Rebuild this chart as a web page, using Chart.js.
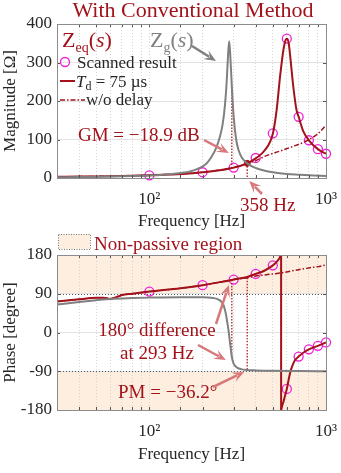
<!DOCTYPE html>
<html><head><meta charset="utf-8">
<script src="https://cdn.jsdelivr.net/npm/chart.js@4.4.1/dist/chart.umd.min.js"></script>
<style>
html,body{margin:0;padding:0;background:#fff;width:341px;height:473px;overflow:hidden;}
canvas{position:absolute;left:0;}
#c1{top:0;}
#c2{top:228px;}
</style></head><body>
<canvas id="c1" width="341" height="240"></canvas>
<canvas id="c2" width="341" height="245"></canvas>
<script>
// ---------------- DATA ----------------
const freqRange = [30, 1000];
const magTicks = [0, 100, 200, 300, 400];
const phaseTicks = [-180, -135, -90, -45, 0, 45, 90, 135, 180];
const xTickLabels = {100: '10²', 1000: '10³'};

// Zg(s) magnitude (gray)
const zgMagFreq = [30,40,50,60,70,80,100,120,150,170,190,210,225,240,250,260,268,274,279,283,287,293,300,310,320,335,358,400,450,500,600,700,800,1000];
const zgMag     = [2,2.6,3.2,3.8,4.5,5.2,6.5,8.5,13,17,25,37,55,80,105,140,190,250,320,355,320,238,160,100,72,52,38,26,19,15,10.5,8.5,7,5.5];
// Zeq(s) magnitude, Td = 75 us
const zeqMagFreq = [30,40,50,60,70,80,100,130,160,200,250,293,300,330,358,400,450,500,525,550,575,590,603,615,626,653,680,700,743,800,900,1000];
const zeqMag     = [3,3.6,4.2,4.8,5.4,6,7,9,11,15,20,26,27,32,38,51,72,115,175,265,335,358,362,350,320,237,178,159,122,98,75,63];
// Zeq(s) magnitude, w/o delay
const noDelayMagFreq = [30,50,100,200,300,358,400,460,550,650,750,800,900,1000];
const noDelayMag     = [3,4.2,7,15,27,38,45,58,70,82,93,100,115,137];
// scanned result
const scanFreq  = [100,200,300,400,500,600,700,800,900,1000];
const scanMag   = [7,15,27,52,116,362,159,98,75,63];
const scanPhase = [95,110,123,136,156,-131,-56,-39,-31,-23];

// Zg(s) phase (gray)
const zgPhaseFreq = [30,40,50,60,80,100,150,200,230,245,255,262,268,272,276,281,285,289,293,299,305,315,330,358,400,500,700,1000];
const zgPhase     = [65,71,75,78,80,81,82,82,80,77,72,65,52,40,24,3,-18,-38,-57,-71,-77,-82,-85,-87,-88,-89,-89.5,-89.8];
// Zeq(s) phase, Td = 75 us (wraps at +/-180)
const wrapFreq = 557;
const zeqPhaseFreqA = [30,40,50,55,60,65,70,80,100,150,200,250,293,300,358,400,450,500,520,540,557];
const zeqPhaseA     = [72,77,81,81,78,82,87,90,95,103,110,117,122,123,129,136,144,156,162,170,180];
const zeqPhaseFreqB = [557,565,575,585,600,626,650,668,700,750,800,900,1000];
const zeqPhaseB     = [-180,-170,-160,-148,-131,-94,-74,-64,-56,-46,-39,-31,-23];
// Zeq(s) phase, w/o delay
const noDelayPhaseFreq = [30,40,50,55,60,65,70,80,100,150,200,250,300,358,400,500,550,700,800,900,1000];
const noDelayPhase     = [72,77,81,81,78,82,87,90,95,103,110,117,123,127,131,136,138,146,150,153,157];

// margins
const gmFreq = 293, gmLineMag = [26, 238];
const pcFreq = 358, pcLineMag = [38, 0];
const diffLinePhase = [122, -57];
const pmLinePhase = [127, -87];
const nonPassiveBands = [[90, 180], [-180, -90]];

// ---------------- STYLE ----------------
const FONT = '"Liberation Serif", "Times New Roman", serif';
const RED = '#a3121a';
const ARROW = '#d8787a';
const MAG = '#ee1fd6';
const GRAY = '#808080';
const TXT = '#262626';
const SHADE = '#fdeee0';

const pts = (xs, ys) => xs.map((x, i) => ({x, y: ys[i]}));
const vline = (x, ys) => ys.map(y => ({x, y}));

function arrow(ctx, x1, y1, x2, y2, color) {
  const a = Math.atan2(y2 - y1, x2 - x1), hl = 10, hw = 5;
  const bx = x2 - hl * Math.cos(a), by = y2 - hl * Math.sin(a);
  ctx.save();
  ctx.strokeStyle = color; ctx.fillStyle = color; ctx.lineWidth = 2.5;
  ctx.beginPath(); ctx.moveTo(x1, y1); ctx.lineTo(bx + 2*Math.cos(a), by + 2*Math.sin(a)); ctx.stroke();
  ctx.beginPath(); ctx.moveTo(x2, y2);
  ctx.lineTo(bx + hw * Math.sin(a) - 2*Math.cos(a), by - hw * Math.cos(a) - 2*Math.sin(a));
  ctx.lineTo(bx + 3*Math.cos(a), by + 3*Math.sin(a));
  ctx.lineTo(bx - hw * Math.sin(a) - 2*Math.cos(a), by + hw * Math.cos(a) - 2*Math.sin(a));
  ctx.closePath(); ctx.fill();
  ctx.restore();
}
function runs(ctx, x, y, list) {
  ctx.textBaseline = 'alphabetic'; ctx.textAlign = 'left';
  for (const r of list) {
    ctx.font = r.f; ctx.fillStyle = r.c;
    ctx.fillText(r.t, x, y + (r.dy || 0));
    x += ctx.measureText(r.t).width;
  }
  return x;
}
function boxAndTicks(chart) {
  const {ctx, chartArea: a, scales} = chart;
  ctx.save();
  ctx.strokeStyle = '#555'; ctx.lineWidth = 1;
  ctx.beginPath();
  for (const t of scales.x.ticks) {
    const px = Math.round(scales.x.getPixelForValue(t.value)) + 0.5;
    ctx.moveTo(px, a.bottom); ctx.lineTo(px, a.bottom - 3);
    ctx.moveTo(px, a.top); ctx.lineTo(px, a.top + 3);
  }
  for (const t of scales.y.ticks) {
    const py = Math.round(scales.y.getPixelForValue(t.value)) + 0.5;
    ctx.moveTo(a.left, py); ctx.lineTo(a.left + 3, py);
    ctx.moveTo(a.right, py); ctx.lineTo(a.right - 3, py);
  }
  ctx.stroke();
  ctx.strokeStyle = '#8c8c8c';
  ctx.strokeRect(Math.round(a.left) + 0.5, Math.round(a.top) + 0.5, Math.round(a.right - a.left), Math.round(a.bottom - a.top));
  ctx.restore();
}

function xAxis(h) {
  return {
    type: 'logarithmic', min: freqRange[0], max: freqRange[1],
    grid: {color: '#d4d4d4', lineWidth: 1, drawTicks: false},
    border: {display: false, dash: [1, 2]},
    ticks: {autoSkip: false, maxRotation: 0, padding: 11, color: TXT, font: {family: FONT, size: 17},
      callback: v => xTickLabels[Math.round(v)] || ''},
    title: {display: true, text: 'Frequency [Hz]', color: TXT, font: {family: FONT, size: 17}, padding: {top: 0, bottom: 8}},
    afterFit: s => { s.height = h; s.paddingLeft = 0; s.paddingRight = 0; }
  };
}
function yAxis(min, max, step, titleText, tickList) {
  return {
    min, max,
    grid: {color: '#e2e2e2', lineWidth: 1, drawTicks: false},
    border: {display: false},
    afterBuildTicks: s => { s.ticks = tickList.map(v => ({value: v})); },
    ticks: {padding: 5, color: TXT, font: {family: FONT, size: 17}, stepSize: step},
    title: {display: true, text: titleText, color: TXT, font: {family: FONT, size: 17}, padding: {top: 0, bottom: 0}},
    afterFit: s => { s.width = 57; s.paddingTop = 0; s.paddingBottom = 0; }
  };
}
const lineDs = (data, color, w, dash) => ({data, borderColor: color, borderWidth: w, borderDash: dash || [], pointRadius: 0, fill: false, cubicInterpolationMode: 'monotone'});

// ---------------- TOP: MAGNITUDE ----------------
const topPlugin = {
  id: 'topDeco',
  afterDraw(chart) {
    const {ctx, scales: {x, y}} = chart;
    boxAndTicks(chart);
    ctx.save();
    // title
    ctx.font = '22px ' + FONT; ctx.fillStyle = RED; ctx.textAlign = 'center'; ctx.textBaseline = 'alphabetic';
    ctx.fillText('With Conventional Method', 193, 17);
    // Zeq(s)
    const F22 = '22px ' + FONT, F22i = 'italic 22px ' + FONT, F14 = '14px ' + FONT;
    runs(ctx, 62, 47, [{t: 'Z', f: F22, c: RED}, {t: 'eq', f: F14, c: RED, dy: 5}, {t: '(', f: F22, c: RED}, {t: 's', f: F22i, c: RED}, {t: ')', f: F22, c: RED}]);
    runs(ctx, 150, 47, [{t: 'Z', f: F22, c: GRAY}, {t: 'g', f: F14, c: GRAY, dy: 5}, {t: '(', f: F22, c: GRAY}, {t: 's', f: F22i, c: GRAY}, {t: ')', f: F22, c: GRAY}]);
    arrow(ctx, 192, 46, 216, 61, GRAY);
    // legend
    const F17 = '17px ' + FONT, F17i = 'italic 17px ' + FONT, F12 = '12px ' + FONT;
    ctx.strokeStyle = MAG; ctx.lineWidth = 1.3;
    ctx.beginPath(); ctx.arc(65, 62, 4.5, 0, Math.PI * 2); ctx.stroke();
    runs(ctx, 77, 68, [{t: 'Scanned result', f: F17, c: TXT}]);
    ctx.strokeStyle = RED; ctx.lineWidth = 2;
    ctx.beginPath(); ctx.moveTo(60, 81); ctx.lineTo(75, 81); ctx.stroke();
    runs(ctx, 76, 87, [{t: 'T', f: F17i, c: TXT}, {t: 'd', f: F12, c: TXT, dy: 3}, {t: ' = 75 µs', f: F17, c: TXT}]);
    ctx.lineWidth = 1.5; ctx.setLineDash([5, 2, 1.5, 2]);
    ctx.beginPath(); ctx.moveTo(60, 100); ctx.lineTo(85, 100); ctx.stroke();
    ctx.setLineDash([]);
    runs(ctx, 86, 105, [{t: 'w/o delay', f: F17, c: TXT}]);
    // annotations
    const F19 = '19px ' + FONT;
    runs(ctx, 78, 141, [{t: 'GM = −18.9 dB', f: F19, c: RED}]);
    arrow(ctx, 204, 140, x.getPixelForValue(gmFreq) - 3, 153, ARROW);
    runs(ctx, 240, 211, [{t: '358 Hz', f: F19, c: RED}]);
    arrow(ctx, 262, 194, x.getPixelForValue(pcFreq) + 2, y.getPixelForValue(0) + 3, ARROW);
    ctx.restore();
  }
};

new Chart(document.getElementById('c1'), {
  type: 'line',
  data: {datasets: [
    lineDs(pts(zgMagFreq, zgMag), GRAY, 2),
    lineDs(pts(zeqMagFreq, zeqMag), RED, 2),
    lineDs(pts(noDelayMagFreq, noDelayMag), RED, 1.5, [5, 2, 1.5, 2]),
    lineDs(vline(gmFreq, gmLineMag), RED, 1.2, [1.5, 1.5]),
    lineDs(vline(pcFreq, pcLineMag), RED, 1.2, [1.5, 1.5]),
    {data: [{x: pcFreq, y: pcLineMag[0]}], showLine: false, pointRadius: 3, pointBackgroundColor: RED, pointBorderColor: RED},
    {data: pts(scanFreq, scanMag), showLine: false, pointRadius: 4.5, pointBorderWidth: 1.3, pointBorderColor: MAG, pointBackgroundColor: 'rgba(0,0,0,0)', clip: false}
  ]},
  options: {
    responsive: false, animation: false, events: [],
    layout: {padding: {top: 24, right: 15, left: 0, bottom: 0}},
    plugins: {legend: {display: false}, tooltip: {enabled: false}},
    scales: {x: xAxis(62), y: yAxis(0, 400, 100, 'Magnitude [Ω]', magTicks)}
  },
  plugins: [topPlugin]
});

// ---------------- BOTTOM: PHASE ----------------
const botPlugin = {
  id: 'botDeco',
  beforeDraw(chart) {
    const {ctx, chartArea: a, scales: {y}} = chart;
    ctx.save();
    ctx.fillStyle = SHADE;
    for (const [lo, hi] of nonPassiveBands) {
      const y1 = y.getPixelForValue(hi), y2 = y.getPixelForValue(lo);
      ctx.fillRect(a.left, y1, a.right - a.left, y2 - y1);
    }
    ctx.restore();
  },
  beforeDatasetsDraw(chart) {
    const {ctx, chartArea: a, scales: {y}} = chart;
    ctx.save();
    ctx.strokeStyle = '#555'; ctx.lineWidth = 1; ctx.setLineDash([1, 2]);
    for (const [lo, hi] of nonPassiveBands) {
      const v = Math.abs(lo) === 90 ? lo : hi;
      const py = Math.round(y.getPixelForValue(v)) + 0.5;
      ctx.beginPath(); ctx.moveTo(a.left, py); ctx.lineTo(a.right, py); ctx.stroke();
    }
    ctx.restore();
  },
  afterDraw(chart) {
    const {ctx, scales: {x, y}} = chart;
    boxAndTicks(chart);
    ctx.save();
    // legend
    ctx.fillStyle = SHADE; ctx.fillRect(58, 6, 32, 15);
    ctx.strokeStyle = '#777'; ctx.lineWidth = 1; ctx.setLineDash([1, 1.5]);
    ctx.strokeRect(58.5, 6.5, 32, 15); ctx.setLineDash([]);
    const F19 = '19px ' + FONT;
    runs(ctx, 94, 22, [{t: 'Non-passive region', f: F19, c: RED}]);
    ctx.textAlign = 'center'; ctx.font = F19; ctx.fillStyle = RED;
    ctx.fillText('180° difference', 157, 108);
    ctx.fillText('at 293 Hz', 157, 131);
    arrow(ctx, 216, 96, x.getPixelForValue(gmFreq) - 3, y.getPixelForValue(diffLinePhase[0]) + 5, ARROW);
    arrow(ctx, 198, 117, x.getPixelForValue(gmFreq) - 6, y.getPixelForValue(diffLinePhase[1]) + 3, ARROW);
    runs(ctx, 118, 170, [{t: 'PM = −36.2°', f: F19, c: RED}]);
    arrow(ctx, 213, 159, x.getPixelForValue(pcFreq) - 3, y.getPixelForValue(pmLinePhase[1]) + 2, ARROW);
    ctx.restore();
  }
};

new Chart(document.getElementById('c2'), {
  type: 'line',
  data: {datasets: [
    lineDs(pts(zgPhaseFreq, zgPhase), GRAY, 2),
    lineDs(pts(zeqPhaseFreqA, zeqPhaseA), RED, 2),
    lineDs(vline(wrapFreq, [180, -180]), RED, 2),
    lineDs(pts(zeqPhaseFreqB, zeqPhaseB), RED, 2),
    lineDs(pts(noDelayPhaseFreq, noDelayPhase), RED, 1.5, [5, 2, 1.5, 2]),
    lineDs(vline(gmFreq, diffLinePhase), RED, 1.2, [1.5, 1.5]),
    lineDs(vline(pcFreq, pmLinePhase), RED, 1.2, [1.5, 1.5]),
    {data: pts(scanFreq, scanPhase), showLine: false, pointRadius: 4.5, pointBorderWidth: 1.3, pointBorderColor: MAG, pointBackgroundColor: 'rgba(0,0,0,0)', clip: false}
  ]},
  options: {
    responsive: false, animation: false, events: [],
    layout: {padding: {top: 27, right: 15, left: 0, bottom: 0}},
    plugins: {legend: {display: false}, tooltip: {enabled: false}},
    scales: {x: xAxis(63), y: yAxis(-180, 180, 45, 'Phase [degree]', phaseTicks)}
  },
  plugins: [botPlugin]
});
</script>
</body></html>
